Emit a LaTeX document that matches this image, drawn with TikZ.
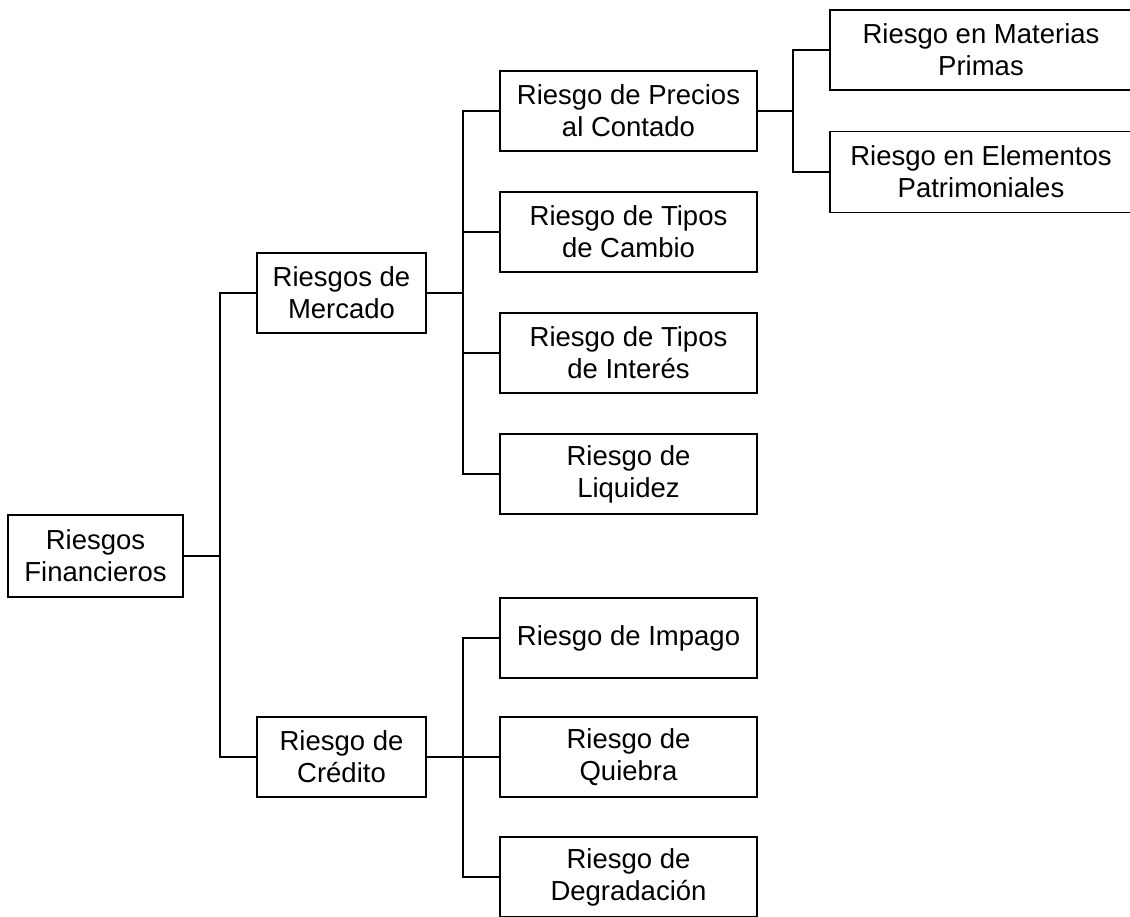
\documentclass[tikz,border=0pt]{standalone}
\usepackage{fontspec}
\setmainfont{Liberation Sans}
\begin{document}
\begin{tikzpicture}[x=1pt,y=-1pt,
  box/.style={draw,line width=1.8pt,inner sep=0pt,align=center,minimum height=80pt,
    font=\fontsize{27.5pt}{32pt}\selectfont},
  conn/.style={line width=1.8pt}]
\useasboundingbox (0,0) rectangle (1130,916);
\node[box,minimum width=175pt,minimum height=82pt] (fin) at (95.5,556) {Riesgos\\Financieros};
\node[box,minimum width=169pt] (merc) at (341.5,293) {Riesgos de\\Mercado};
\node[box,minimum width=169pt] (cred) at (341.5,757) {Riesgo de\\Crédito};
\node[box,minimum width=257pt] (prec) at (628.5,111) {Riesgo de Precios\\al Contado};
\node[box,minimum width=257pt] (camb) at (628.5,232) {Riesgo de Tipos\\de Cambio};
\node[box,minimum width=257pt] (inte) at (628.5,353) {Riesgo de Tipos\\de Interés};
\node[box,minimum width=257pt] (liq) at (628.5,474) {Riesgo de\\Liquidez};
\node[box,minimum width=257pt] (imp) at (628.5,638) {Riesgo de Impago};
\node[box,minimum width=257pt] (quie) at (628.5,757) {Riesgo de\\Quiebra};
\node[box,minimum width=257pt] (degr) at (628.5,877) {Riesgo de\\Degradación};
\node[box,minimum width=302pt] (mat) at (981,50) {Riesgo en Materias\\Primas};
\node[box,minimum width=302pt,minimum height=81pt] (elem) at (981,172) {Riesgo en Elementos\\Patrimoniales};
\coordinate (t1) at (220,0);
\coordinate (t2) at (463,0);
\coordinate (t3) at (793,0);
% level 1
\draw[conn] (fin.east) -- (fin.east -| t1);
\draw[conn] (merc.west) -| (t1 |- cred.west) -- (cred.west);
% mercado
\draw[conn] (merc.east) -- (merc.east -| t2);
\draw[conn] (prec.west) -| (t2 |- liq.west) -- (liq.west);
\draw[conn] (t2 |- camb.west) -- (camb.west);
\draw[conn] (t2 |- inte.west) -- (inte.west);
% credito
\draw[conn] (cred.east) -- (quie.west);
\draw[conn] (imp.west) -| (t2 |- degr.west) -- (degr.west);
% precios
\draw[conn] (prec.east) -- (prec.east -| t3);
\draw[conn] (mat.west) -| (t3 |- elem.west) -- (elem.west);
\end{tikzpicture}
\end{document}
